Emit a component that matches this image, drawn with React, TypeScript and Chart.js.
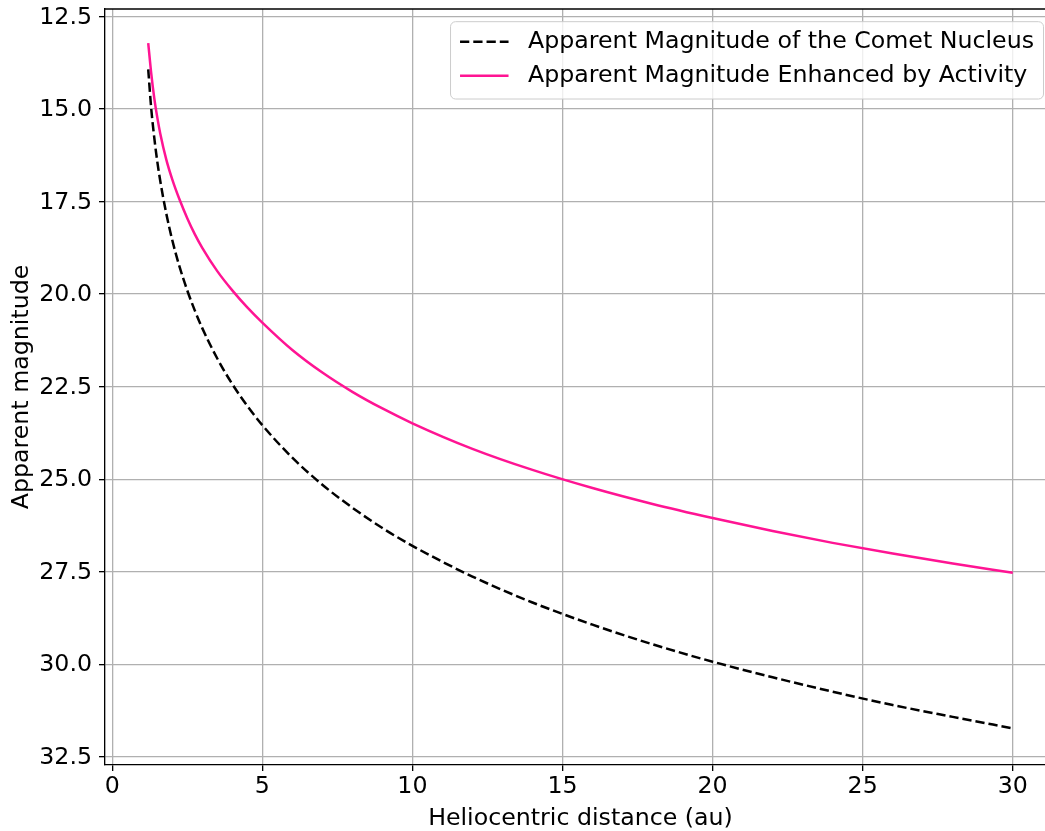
import React, { useEffect, useRef } from 'react';
import { Chart, registerables } from 'chart.js';

Chart.register(...registerables);

// Heliocentric distance (au)
const distances = [1.2, 1.3, 1.4, 1.5, 1.6, 1.8, 2.0, 2.25, 2.5, 2.75, 3, 3.5, 4, 4.5, 5, 6, 7, 8, 9, 10, 12, 14, 16, 18, 20, 22, 24, 26, 28, 30];
// Apparent magnitude of the bare nucleus (dashed black)
const nucleusMag = [13.93, 14.99, 15.77, 16.41, 16.94, 17.82, 18.54, 19.28, 19.9, 20.44, 20.92, 21.74, 22.43, 23.02, 23.54, 24.42, 25.15, 25.77, 26.32, 26.8, 27.63, 28.33, 28.93, 29.46, 29.93, 30.35, 30.74, 31.1, 31.42, 31.73];
// Apparent magnitude enhanced by activity (pink)
const activeMag = [13.22, 14.04, 14.7, 15.22, 15.66, 16.36, 16.9, 17.46, 17.95, 18.38, 18.75, 19.38, 19.9, 20.36, 20.77, 21.51, 22.12, 22.64, 23.09, 23.49, 24.18, 24.75, 25.24, 25.67, 26.05, 26.4, 26.72, 27.01, 27.28, 27.53];

const seriesLabels = ['Apparent Magnitude of the Comet Nucleus', 'Apparent Magnitude Enhanced by Activity'];
const xTickValues = [0, 5, 10, 15, 20, 25, 30];
const yTickValues = [12.5, 15, 17.5, 20, 22.5, 25, 27.5, 30, 32.5];
const xAxisTitle = 'Heliocentric distance (au)';
const yAxisTitle = 'Apparent magnitude';

const FONT = '"DejaVu Sans", "Liberation Sans", sans-serif';
const FS = 23.7;

const frameLegendPlugin = {
  id: 'mplFrameLegend',
  afterDraw(chart: any) {
    const { ctx, chartArea } = chart;
    ctx.save();
    // top spine
    ctx.beginPath();
    ctx.strokeStyle = '#000';
    ctx.lineWidth = 1.33;
    ctx.moveTo(chartArea.left, chartArea.top);
    ctx.lineTo(chartArea.right + 2, chartArea.top);
    ctx.stroke();

    // legend
    ctx.font = `${FS}px ${FONT}`;
    const datasets = chart.data.datasets;
    const tw = Math.max(...datasets.map((d: any) => ctx.measureText(d.label).width));
    const pad = 9.5;
    const handle = 48.5;
    const gap = 19.5;
    const w = pad + handle + gap + tw + pad;
    const right = chartArea.right - 12.5;
    const left = right - w;
    const top = chartArea.top + 12.7;
    const h = 77.3;
    ctx.beginPath();
    (ctx as any).roundRect(left, top, w, h, 5);
    ctx.fillStyle = 'rgba(255,255,255,0.8)';
    ctx.fill();
    ctx.strokeStyle = '#cccccc';
    ctx.lineWidth = 1;
    ctx.stroke();
    datasets.forEach((ds: any, i: number) => {
      const cy = top + 20 + i * 34;
      ctx.beginPath();
      ctx.setLineDash(ds.borderDash || []);
      ctx.strokeStyle = ds.borderColor;
      ctx.lineWidth = ds.borderWidth;
      ctx.moveTo(left + pad, cy);
      ctx.lineTo(left + pad + handle, cy);
      ctx.stroke();
      ctx.setLineDash([]);
      ctx.fillStyle = '#000';
      ctx.textAlign = 'left';
      ctx.textBaseline = 'alphabetic';
      ctx.fillText(ds.label, left + pad + handle + gap, cy + 6);
    });
    ctx.restore();
  },
};

export default function App() {
  const canvasRef = useRef<HTMLCanvasElement | null>(null);

  useEffect(() => {
    if (!canvasRef.current) return;
    const toPoints = (ys: number[]) => distances.map((x, i) => ({ x, y: ys[i] }));
    const chart = new Chart(canvasRef.current, {
      type: 'line',
      data: {
        datasets: [
          {
            label: seriesLabels[0],
            data: toPoints(nucleusMag),
            borderColor: '#000000',
            borderWidth: 2.5,
            borderDash: [9.25, 4],
            pointRadius: 0,
            fill: false,
            cubicInterpolationMode: 'monotone',
          },
          {
            label: seriesLabels[1],
            data: toPoints(activeMag),
            borderColor: '#ff1493',
            borderWidth: 2.5,
            pointRadius: 0,
            fill: false,
            cubicInterpolationMode: 'monotone',
          },
        ],
      },
      options: {
        animation: false,
        responsive: false,
        devicePixelRatio: 1,
        layout: { padding: { top: 9, right: 4, left: 0, bottom: 0 } },
        plugins: { legend: { display: false }, tooltip: { enabled: false } },
        scales: {
          x: {
            type: 'linear',
            min: -0.24,
            max: 31.44,
            afterBuildTicks: (scale: any) => {
              scale.ticks = xTickValues.map((value) => ({ value }));
            },
            afterFit: (scale: any) => {
              scale.height = 66;
              scale.paddingLeft = 0;
              scale.paddingRight = 0;
              scale.paddingTop = 0;
              scale.paddingBottom = 0;
            },
            grid: {
              color: '#b0b0b0',
              lineWidth: 1.3,
              drawTicks: true,
              tickLength: 6,
              tickColor: '#000',
              tickWidth: 1.33,
            },
            border: { display: true, color: '#000', width: 1.33 },
            ticks: {
              color: '#000',
              font: { family: FONT, size: FS },
              padding: 2,
              maxRotation: 0,
              autoSkip: false,
              callback: (v: any) => String(v),
            },
            title: {
              display: true,
              text: xAxisTitle,
              color: '#000',
              font: { family: FONT, size: FS, lineHeight: 1 },
              padding: { top: 0, bottom: 0 },
            },
          },
          y: {
            type: 'linear',
            reverse: true,
            min: 12.3,
            max: 32.72,
            afterBuildTicks: (scale: any) => {
              scale.ticks = yTickValues.map((value) => ({ value }));
            },
            afterFit: (scale: any) => {
              scale.width = 105;
              scale.paddingLeft = 0;
              scale.paddingRight = 0;
              scale.paddingTop = 0;
              scale.paddingBottom = 0;
            },
            grid: {
              color: '#b0b0b0',
              lineWidth: 1.3,
              drawTicks: true,
              tickLength: 6,
              tickColor: '#000',
              tickWidth: 1.33,
            },
            border: { display: true, color: '#000', width: 1.33 },
            ticks: {
              color: '#000',
              font: { family: FONT, size: FS },
              padding: 7,
              labelOffset: 1,
              autoSkip: false,
              callback: (v: any) => Number(v).toFixed(1),
            },
            title: {
              display: true,
              text: yAxisTitle,
              color: '#000',
              font: { family: FONT, size: FS, lineHeight: 1 },
              padding: { top: 10.5, bottom: 0 },
            },
          },
        },
      },
      plugins: [frameLegendPlugin],
    } as any);
    return () => chart.destroy();
  }, []);

  return (
    <div
      style={{
        position: 'fixed',
        left: 0,
        top: 0,
        width: 1045,
        height: 831,
        overflow: 'hidden',
        background: '#ffffff',
      }}
    >
      <canvas ref={canvasRef} width={1060} height={831} style={{ display: 'block' }} />
    </div>
  );
}
